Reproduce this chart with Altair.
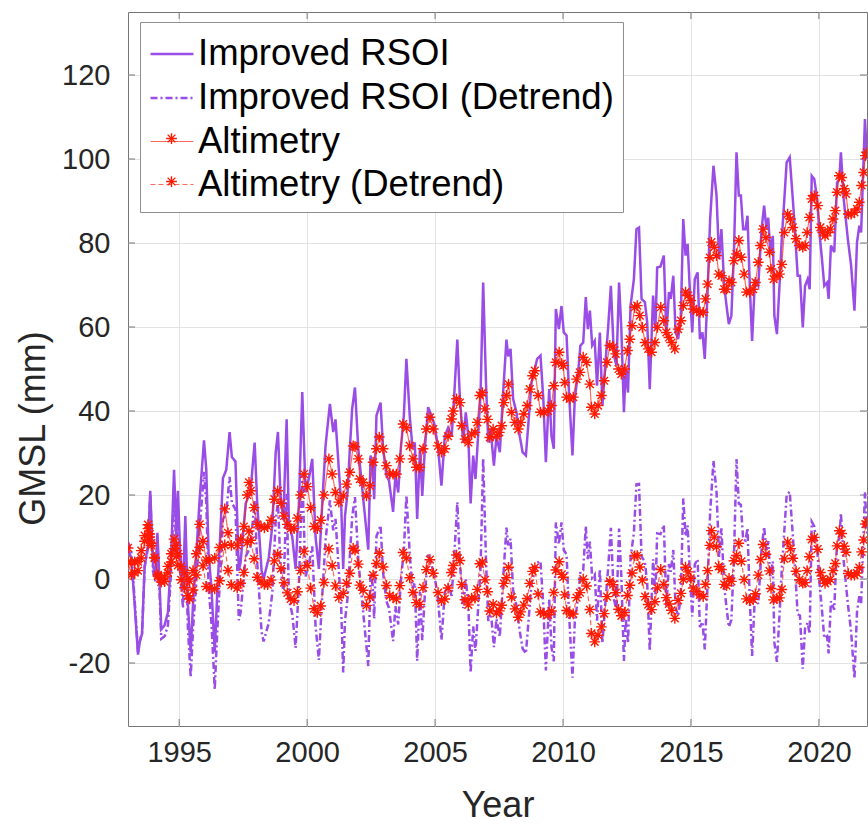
import altair as alt
import numpy as np
import pandas as pd

# ---------------- data ----------------
RSOI_YEAR = [1993.00, 1993.13, 1993.26, 1993.39, 1993.46, 1993.55, 1993.65, 1993.78, 1993.87, 1993.98,
             1994.07, 1994.15, 1994.24, 1994.30, 1994.43, 1994.56, 1994.69, 1994.80, 1994.89, 1994.95,
             1995.04, 1995.15, 1995.24, 1995.34, 1995.45, 1995.54, 1995.67, 1995.80, 1995.97, 1996.06,
             1996.15, 1996.26, 1996.39, 1996.49, 1996.60, 1996.71, 1996.84, 1996.97, 1997.06, 1997.20,
             1997.33, 1997.40, 1997.60, 1997.79, 1997.95, 1998.05, 1998.22, 1998.30, 1998.50, 1998.64,
             1998.77, 1998.86, 1998.96, 1999.07, 1999.20, 1999.29, 1999.42, 1999.55, 1999.68, 1999.81,
             1999.94, 2000.07, 2000.20, 2000.33, 2000.46, 2000.59, 2000.72, 2000.89, 2001.02, 2001.11,
             2001.24, 2001.33, 2001.41, 2001.48, 2001.58, 2001.67, 2001.76, 2001.87, 2002.00, 2002.13,
             2002.26, 2002.39, 2002.48, 2002.56, 2002.62, 2002.71, 2002.87, 2002.97, 2003.10, 2003.20,
             2003.36, 2003.45, 2003.56, 2003.66, 2003.78, 2003.88, 2004.01, 2004.12, 2004.21, 2004.30,
             2004.41, 2004.50, 2004.60, 2004.73, 2004.86, 2004.99, 2005.12, 2005.25, 2005.38, 2005.51,
             2005.65, 2005.76, 2005.87, 2005.97, 2006.10, 2006.20, 2006.30, 2006.39, 2006.49, 2006.58,
             2006.69, 2006.78, 2006.88, 2006.99, 2007.08, 2007.17, 2007.30, 2007.40, 2007.53, 2007.66,
             2007.79, 2007.86, 2007.95, 2008.05, 2008.18, 2008.31, 2008.42, 2008.55, 2008.65, 2008.77,
             2008.99, 2009.12, 2009.23, 2009.33, 2009.46, 2009.55, 2009.64, 2009.72, 2009.84, 2009.94,
             2010.03, 2010.14, 2010.24, 2010.37, 2010.46, 2010.59, 2010.68, 2010.79, 2010.89, 2010.97,
             2011.05, 2011.14, 2011.24, 2011.33, 2011.44, 2011.54, 2011.65, 2011.76, 2011.87, 2011.99,
             2012.09, 2012.19, 2012.28, 2012.38, 2012.45, 2012.54, 2012.64, 2012.77, 2012.87, 2012.97,
             2013.07, 2013.20, 2013.29, 2013.39, 2013.52, 2013.61, 2013.68, 2013.81, 2013.94, 2014.04,
             2014.14, 2014.21, 2014.31, 2014.40, 2014.50, 2014.60, 2014.70, 2014.79, 2014.87, 2014.96,
             2015.05, 2015.15, 2015.26, 2015.35, 2015.45, 2015.54, 2015.65, 2015.75, 2015.88, 2016.00,
             2016.10, 2016.19, 2016.30, 2016.39, 2016.48, 2016.58, 2016.68, 2016.78, 2016.87, 2016.95,
             2017.04, 2017.13, 2017.21, 2017.30, 2017.39, 2017.50, 2017.63, 2017.76, 2017.86, 2017.95,
             2018.02, 2018.10, 2018.20, 2018.26, 2018.36, 2018.46, 2018.55, 2018.65, 2018.74, 2018.86,
             2018.98, 2019.07, 2019.17, 2019.26, 2019.37, 2019.46, 2019.56, 2019.64, 2019.72, 2019.82,
             2019.93, 2020.02, 2020.12, 2020.21, 2020.32, 2020.38, 2020.47, 2020.60, 2020.71, 2020.80,
             2020.86, 2020.97, 2021.13, 2021.26, 2021.39, 2021.49, 2021.58, 2021.65, 2021.80, 2021.88]
RSOI_GMSL = [7, 5, -6, -18, -15, -13, 3, 8, 21, 3,
             1, 11, -2, -12, -11, -8, 6, 26, 10, 21,
             6, -2, 15, -6, -17.5, -6, 6, 19, 33, 26,
             6, -2, -17.5, -3, 10, 24, 26, 35, 29, 28,
             2, 4, 18, 21, 32.5, 18, 2, 0, 5, 12.7,
             30, 35, 20, 14, 38, 13, 10, 2.4, 18, 44.5,
             20.6, 24, 28.6, 10, 2.4, 18, 31.7, 41.7, 35, 38,
             26, 18, 2.4, 15, 20.6, 31, 40.5, 45.6, 31, 23,
             15, 7, 29.4, 27, 19, 38.9, 42, 31, 24.6, 23.4,
             16, 24.6, 20.6, 31, 38.9, 52.4, 38.9, 31, 32.5, 14.3,
             31, 19.8, 31, 40.9, 38.9, 36.5, 31, 22.2, 34, 36,
             34, 45, 57, 43, 32.5, 39.7, 34, 18, 29.4, 23.8,
             35, 44.4, 70.6, 46.8, 32.5, 35.7, 27, 34, 30.2, 44.4,
             57, 53, 54.8, 42.9, 39.7, 34, 30.2, 29.4, 37.3, 46.8,
             52.4, 53.2, 42.9, 27.8, 45.2, 34, 31, 64.3, 59.5, 65,
             58.7, 58, 43.7, 29.4, 42.9, 49.2, 55.6, 56.3, 67.1, 59.5,
             63.9, 55.6, 56.7, 46, 58.7, 41.3, 50.8, 59.5, 69.8, 53.2,
             50.8, 70.6, 59.5, 39.7, 50, 44.4, 65.1, 71.4, 83.3, 83.7,
             66.7, 65.9, 61.1, 45.2, 67.5, 59.5, 74.2, 74.4, 77, 58,
             68.3, 66.7, 72.2, 58.7, 57.1, 61.9, 85.7, 77, 79.8, 68.3,
             58.7, 71.4, 73, 57.1, 58.7, 52.4, 68.3, 85.7, 98.4, 91.3,
             76.2, 83.3, 69.8, 65.1, 60.7, 62.7, 77.8, 101.6, 91.3, 91.3,
             83.3, 83.3, 86.5, 69.8, 56.7, 71.4, 69.8, 83.3, 88.9, 83.3,
             86, 77.8, 81.7, 62.7, 58.3, 69.8, 81, 90.5, 99.2, 100.4,
             90.5, 82.5, 72.2, 72.2, 59.9, 69.8, 71.4, 69, 96, 95.2,
             90.5, 82.5, 76.2, 69.8, 70.6, 66.7, 79.4, 77.8, 94.4, 95.2,
             101.6, 90.5, 81, 74.6, 63.9, 80.2, 84.1, 82.5, 109.5, 100]

ALT_YEAR = [1993.00, 1993.13, 1993.26, 1993.39, 1993.52, 1993.65, 1993.78, 1993.85, 1993.91, 1994.04,
            1994.17, 1994.30, 1994.43, 1994.56, 1994.69, 1994.80, 1994.89, 1994.95, 1995.08, 1995.21,
            1995.34, 1995.41, 1995.54, 1995.67, 1995.80, 1995.93, 1996.06, 1996.19, 1996.39, 1996.58,
            1996.78, 1996.91, 1997.04, 1997.27, 1997.40, 1997.53, 1997.66, 1997.73, 1997.80, 1997.93,
            1998.05, 1998.20, 1998.33, 1998.46, 1998.59, 1998.72, 1998.85, 1998.98, 1999.10, 1999.23,
            1999.36, 1999.49, 1999.62, 1999.75, 1999.88, 2000.01, 2000.14, 2000.27, 2000.40, 2000.53,
            2000.66, 2000.85, 2000.98, 2001.11, 2001.24, 2001.41, 2001.54, 2001.67, 2001.80, 2001.87,
            2002.00, 2002.06, 2002.19, 2002.32, 2002.45, 2002.58, 2002.71, 2002.82, 2002.97, 2003.10,
            2003.23, 2003.36, 2003.49, 2003.62, 2003.75, 2003.88, 2004.01, 2004.14, 2004.27, 2004.40,
            2004.53, 2004.66, 2004.80, 2004.93, 2005.12, 2005.25, 2005.38, 2005.51, 2005.64, 2005.71,
            2005.84, 2005.97, 2006.04, 2006.17, 2006.30, 2006.43, 2006.56, 2006.65, 2006.75, 2006.85,
            2006.95, 2007.05, 2007.14, 2007.27, 2007.40, 2007.51, 2007.60, 2007.69, 2007.79, 2007.87,
            2007.99, 2008.12, 2008.25, 2008.35, 2008.47, 2008.60, 2008.70, 2008.81, 2008.90, 2009.03,
            2009.12, 2009.25, 2009.42, 2009.55, 2009.64, 2009.72, 2009.85, 2009.95, 2010.01, 2010.07,
            2010.14, 2010.27, 2010.40, 2010.53, 2010.66, 2010.79, 2010.92, 2011.05, 2011.11, 2011.24,
            2011.37, 2011.50, 2011.61, 2011.72, 2011.83, 2011.96, 2012.06, 2012.17, 2012.28, 2012.41,
            2012.52, 2012.61, 2012.70, 2012.80, 2012.90, 2013.00, 2013.10, 2013.21, 2013.33, 2013.46,
            2013.59, 2013.69, 2013.82, 2013.94, 2014.04, 2014.14, 2014.24, 2014.37, 2014.50, 2014.61,
            2014.70, 2014.79, 2014.89, 2014.99, 2015.09, 2015.22, 2015.35, 2015.48, 2015.57, 2015.65,
            2015.74, 2015.80, 2015.91, 2016.00, 2016.09, 2016.19, 2016.30, 2016.39, 2016.49, 2016.58,
            2016.68, 2016.78, 2016.87, 2016.97, 2017.08, 2017.17, 2017.30, 2017.43, 2017.52, 2017.63,
            2017.72, 2017.82, 2017.93, 2018.07, 2018.13, 2018.23, 2018.36, 2018.46, 2018.55, 2018.65,
            2018.78, 2018.89, 2018.98, 2019.11, 2019.24, 2019.37, 2019.46, 2019.54, 2019.63, 2019.72,
            2019.82, 2019.95, 2020.06, 2020.15, 2020.24, 2020.34, 2020.45, 2020.55, 2020.64, 2020.71,
            2020.80, 2020.89, 2020.99, 2021.06, 2021.15, 2021.26, 2021.39, 2021.49, 2021.58, 2021.67,
            2021.75, 2021.82, 2021.88]
ALT_GMSL = [4, 1, 1.5, 2, 5, 9, 12, 10, 8, 5,
            1, 0, 0.5, 3, 6, 9.5, 8, 6, 3, 1.5,
            0, -0.5, 2, 6, 13, 9, 4.5, 4.5, 5, 7.5,
            16.7, 11, 8, 8, 9.5, 12.5, 20, 23, 21, 17,
            13, 12.5, 12.2, 12.5, 14, 19, 21, 18, 15, 13,
            12, 12, 14.5, 20, 25, 22, 17, 12.5, 12, 14,
            20, 28.6, 25, 20.6, 18.3, 19.8, 22.6, 25.4, 31.7, 31.5,
            28.6, 23.8, 23, 19.8, 22.2, 27.8, 31, 33.8, 31, 27,
            25, 25, 25, 28.6, 36.9, 36, 31.7, 28.6, 26.6, 26.6,
            31, 35.7, 38.5, 35.7, 31.7, 30.2, 31, 34, 38.1, 40,
            42.9, 42, 36.5, 33.3, 32.5, 34.5, 34.9, 37.3, 43.7, 44.4,
            40.5, 38, 33.7, 35.7, 34, 34.9, 36.5, 42, 43.7, 46.4,
            39.7, 37.3, 35.7, 37.3, 39.3, 41.3, 45.2, 48.4, 49.6, 43.7,
            39.7, 39.7, 40, 41.3, 46, 51.6, 54, 51.3, 50.8, 46.8,
            43.3, 42.9, 43.3, 47.6, 49.2, 52.8, 51.6, 46.4, 40.9, 39.3,
            41.3, 43.7, 47.2, 51.6, 55.6, 55.2, 53.6, 50, 48.8, 50,
            54.4, 57.1, 60.3, 64.7, 65.1, 62.7, 59.9, 56.3, 54.8, 54,
            56.3, 59.9, 64.7, 61.5, 58.7, 57.5, 56.3, 54.8, 59.5, 61.5,
            65.1, 68.3, 67.5, 66.3, 64.3, 63.9, 63.5, 63.5, 66.7, 70.2,
            76.5, 80.2, 79, 77, 72.6, 72.2, 69, 69, 71, 70.6,
            75.8, 77.4, 80.6, 76.6, 72.6, 68.3, 68.3, 69, 70.6, 75.4,
            79.4, 83.3, 81.3, 77.8, 73.8, 71.4, 72.2, 72.6, 74.9, 82.5,
            86.9, 85.7, 83.7, 81, 79.4, 79, 79.4, 82.5, 86.1, 90.5,
            91.3, 88.9, 83.7, 82.5, 81.7, 82.5, 83.3, 85.7, 87.7, 92.1,
            96, 95.6, 92.9, 91.7, 86.9, 86.9, 87.3, 88.1, 89.7, 93.7,
            96.8, 100.8, 101.6]

SERIES = ["Improved RSOI", "Improved RSOI (Detrend)", "Altimetry", "Altimetry (Detrend)"]
X_TICKS = [1995, 2000, 2005, 2010, 2015, 2020]
Y_TICKS = [-20, 0, 20, 40, 60, 80, 100, 120]

# ---------------- styling ----------------
PURPLE = "#994DE6"
RED = "#FF1A00"
FONT = "Liberation Sans"
TXT = "#262626"
AXC = "#767676"
W, H = 739, 714
XDOM = [1993.0, 2021.88]
YDOM = [-35, 135]
LEG_FS = 36.5
ROW_PAD = 2
ROW_PITCH = 40.5 + ROW_PAD


def detrend(t, v):
    t = np.asarray(t, float)
    v = np.asarray(v, float)
    slope, icpt = np.polyfit(t, v, 1)
    return v - (icpt + slope * t)


purple = pd.concat([
    pd.DataFrame({"year": RSOI_YEAR, "gmsl": RSOI_GMSL, "series": SERIES[0]}),
    pd.DataFrame({"year": RSOI_YEAR, "gmsl": detrend(RSOI_YEAR, RSOI_GMSL), "series": SERIES[1]}),
])
red = pd.concat([
    pd.DataFrame({"year": ALT_YEAR, "gmsl": ALT_GMSL, "series": SERIES[2]}),
    pd.DataFrame({"year": ALT_YEAR, "gmsl": detrend(ALT_YEAR, ALT_GMSL), "series": SERIES[3]}),
])

xs = alt.Scale(domain=XDOM, nice=False, zero=False)
ys = alt.Scale(domain=YDOM, nice=False, zero=False)

x_axis = alt.Axis(values=X_TICKS, labelExpr="'' + datum.value", title="Year",
                  grid=True, ticks=False, domain=False, labelPadding=12,
                  titleY=90, titleBaseline="alphabetic", titleX=W / 2)
y_axis = alt.Axis(values=Y_TICKS, labelExpr="'' + datum.value", title="GMSL (mm)",
                  grid=True, ticks=False, domain=False, labelPadding=18,
                  titleX=-84, titleY=416, titleAngle=270, titleBaseline="alphabetic",
                  titleAlign="center")


def X():
    return alt.X("year:Q", scale=xs, axis=x_axis)


def Y():
    return alt.Y("gmsl:Q", scale=ys, axis=y_axis)


leg_a = alt.Legend(title=None)
color = alt.Color("series:N", scale=alt.Scale(domain=SERIES, range=[PURPLE, PURPLE, RED, RED]),
                  legend=leg_a)
dash = alt.StrokeDash("series:N", scale=alt.Scale(domain=SERIES,
                      range=[[1, 0], [7, 3, 2, 3], [1, 0], [5, 3]]), legend=leg_a)
swidth = alt.StrokeWidth("series:N", scale=alt.Scale(type="ordinal", domain=SERIES,
                         range=[2.5, 2.5, 1.2, 1.2]), legend=leg_a)
opac = alt.Opacity("series:N", scale=alt.Scale(type="ordinal", domain=SERIES,
                   range=[1, 1, 0.65, 0.65]), legend=leg_a)

ASTER = ("M-0.25,0L0.25,0M0,-0.25L0,0.25M-0.18,-0.18L0.18,0.18M-0.18,0.18L0.18,-0.18")

purple_lines = alt.Chart(purple).mark_line(clip=True).encode(
    x=X(), y=Y(), color=color, strokeDash=dash, strokeWidth=swidth, opacity=opac)

red_lines = alt.Chart(red).mark_line(clip=True).encode(
    x=X(), y=Y(), color=color, strokeDash=dash, strokeWidth=swidth, opacity=opac)

red_pts = alt.Chart(red).mark_point(clip=True, filled=False, size=1849, strokeWidth=1.4,
                                    color=RED, opacity=1).encode(
    x=X(), y=Y(),
    shape=alt.Shape("series:N", scale=alt.Scale(domain=SERIES[2:], range=[ASTER, ASTER]),
                    legend=alt.Legend(title=None, legendY=10 + 2 * ROW_PITCH, labelExpr="' '",
                                      strokeColor="transparent", fillColor="transparent",
                                      symbolStrokeColor=RED, symbolStrokeWidth=1.4)))

# inward tick marks on all four sides
xt = pd.DataFrame({"year": X_TICKS})
yt = pd.DataFrame({"gmsl": Y_TICKS})
tick_b = alt.Chart(xt).mark_rule(color=AXC, strokeWidth=1).encode(
    x=X(), y=alt.value(H), y2=alt.value(H - 7))
tick_t = alt.Chart(xt).mark_rule(color=AXC, strokeWidth=1).encode(
    x=X(), y=alt.value(0), y2=alt.value(7))
tick_l = alt.Chart(yt).mark_rule(color=AXC, strokeWidth=1).encode(
    y=Y(), x=alt.value(0), x2=alt.value(7))
tick_r = alt.Chart(yt).mark_rule(color=AXC, strokeWidth=1).encode(
    y=Y(), x=alt.value(W), x2=alt.value(W - 7))

chart = alt.layer(tick_b, tick_t, tick_l, tick_r, purple_lines, red_lines, red_pts).properties(
    width=W, height=H,
    autosize=alt.AutoSizeParams(type="none"),
    padding={"left": 128, "top": 12, "right": 1, "bottom": 98},
    background="white",
).configure_view(
    stroke=AXC, strokeWidth=1
).configure_axis(
    labelFont=FONT, labelFontSize=29, labelColor=TXT,
    titleFont=FONT, titleFontSize=36, titleColor=TXT, titleFontWeight="normal",
    gridColor="#E3E3E3", gridWidth=1,
).configure_legend(
    orient="none", legendX=12, legendY=10, padding=9, strokeColor="#8F8F8F", fillColor="white",
    labelFont=FONT, labelFontSize=LEG_FS, labelColor="black", labelLimit=0, symbolSize=1849,
    rowPadding=ROW_PAD, labelOffset=3, symbolFillColor="transparent", cornerRadius=0,
)

chart.save("out.html", embed_options={"renderer": "svg", "actions": False})
